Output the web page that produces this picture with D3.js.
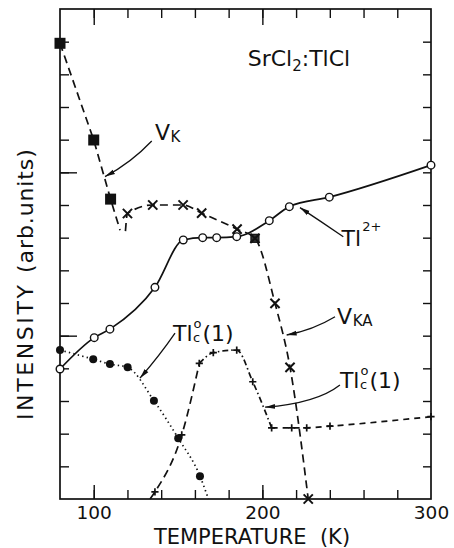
<!DOCTYPE html>
<html>
<head>
<meta charset="utf-8">
<script src="https://cdn.jsdelivr.net/npm/d3@7"></script>
<style>
  body { margin: 0; background: #fff; }
  text { font-family: "DejaVu Sans", sans-serif; fill: #111; }
</style>
</head>
<body>
<svg id="chart"></svg>
<script>
// V_K (filled squares)
const vkT = [80, 100, 110];
const vkI = [13.95, 10.99, 9.18];
const vkLineT = [80, 100, 110, 115.6];
const vkLineI = [13.95, 10.99, 9.18, 8.23];

// V_KA (crosses)
const vkaT = [120, 135, 153, 164, 185, 207.5, 216.4, 227.2];
const vkaI = [8.74, 9.0, 9.0, 8.75, 8.26, 5.99, 4.03, 0];
const boxedT = [195.6];
const boxedI = [7.98];
const vkaLineT = [118.8, 120, 135, 153, 164, 185, 195.6, 207.5, 216.4, 227.2];
const vkaLineI = [8.2, 8.74, 9.0, 9.0, 8.75, 8.26, 7.98, 5.99, 4.03, 0];

// Tl2+ (open circles)
const tl2T = [80, 100.3, 109.6, 136.3, 153.1, 164.6, 172.9, 184.8, 204.1, 216, 239.7, 300];
const tl2I = [3.98, 4.94, 5.2, 6.48, 7.93, 8.0, 8.0, 8.03, 8.52, 8.95, 9.24, 10.22];

// Tl_c^0(1) (filled circles, dotted)
const tlcDotT = [80, 99.7, 109.6, 120.1, 135.7, 150.1, 163];
const tlcDotI = [4.56, 4.28, 4.13, 4.03, 3.01, 1.86, 0.70];
const tlcDotLineT = [80, 99.7, 109.6, 120.1, 135.7, 150.1, 163, 168];
const tlcDotLineI = [4.56, 4.28, 4.13, 4.03, 3.01, 1.86, 0.70, 0];

// Tl_c^0(1) (plus signs)
const tlcPlusT = [136.3, 152.2, 162.6, 170.9, 184.8, 194.3, 205.5, 217.4, 226.3, 240.1, 300];
const tlcPlusI = [0.22, 1.96, 4.15, 4.48, 4.56, 3.59, 2.18, 2.18, 2.18, 2.23, 2.52];
const tlcPlusLineT = [133.4, 136.3, 152.2, 162.6, 170.9, 184.8, 194.3, 205.5, 217.4, 226.3, 240.1, 300];
const tlcPlusLineI = [0, 0.22, 1.96, 4.15, 4.48, 4.56, 3.59, 2.18, 2.18, 2.18, 2.23, 2.52];

// axis ticks
const xMinorTicks = [100, 120, 140, 160, 180, 200, 220, 240, 260, 280];
const xMajorTicks = [100, 200];
const xTickLabels = [100, 200, 300];
const yMinorTicks = [1, 2, 3, 4, 5, 6, 7, 8, 9, 10, 11, 12, 13, 14];
const yMajorTicks = [5, 10];

const width = 454;
const height = 548;
const marginLeft = 60, marginRight = 23, marginTop = 9, marginBottom = 49;

const svg = d3.select("#chart")
    .attr("width", width)
    .attr("height", height)
    .attr("viewBox", [0, 0, width, height]);

const x = d3.scaleLinear().domain([80, 300]).range([marginLeft, width - marginRight]);
const y = d3.scaleLinear().domain([0, 15]).range([height - marginBottom, marginTop]);

const zip = (a, b) => a.map((v, i) => [v, b[i]]);

// arrow head
svg.append("defs").append("marker")
    .attr("id", "arrow")
    .attr("viewBox", "0 -3 10 6")
    .attr("refX", 10).attr("refY", 0)
    .attr("markerWidth", 10).attr("markerHeight", 6)
    .attr("markerUnits", "userSpaceOnUse")
    .attr("orient", "auto")
  .append("path")
    .attr("d", "M0,-2.4L10,0L0,2.4Z")
    .attr("fill", "#111");

// axes (ticks point inward)
const axisG = svg.append("g");
function noDomain(g) { g.select(".domain").remove(); g.selectAll("line").attr("stroke", "#111").attr("stroke-width", 1.4); }

axisG.append("g").attr("transform", `translate(0,${y(0)})`)
    .call(d3.axisBottom(x).tickValues(xMinorTicks).tickSize(-9).tickFormat("")).call(noDomain);
axisG.append("g").attr("transform", `translate(0,${y(0)})`)
    .call(d3.axisBottom(x).tickValues(xMajorTicks).tickSize(-14).tickFormat("")).call(noDomain);
axisG.append("g").attr("transform", `translate(0,${y(15)})`)
    .call(d3.axisTop(x).tickValues(xMinorTicks).tickSize(-9).tickFormat("")).call(noDomain);
axisG.append("g").attr("transform", `translate(0,${y(15)})`)
    .call(d3.axisTop(x).tickValues(xMajorTicks).tickSize(-16).tickFormat("")).call(noDomain);
axisG.append("g").attr("transform", `translate(${x(80)},0)`)
    .call(d3.axisLeft(y).tickValues(yMinorTicks).tickSize(-9).tickFormat("")).call(noDomain);
axisG.append("g").attr("transform", `translate(${x(80)},0)`)
    .call(d3.axisLeft(y).tickValues(yMajorTicks).tickSize(-17).tickFormat("")).call(noDomain);
axisG.append("g").attr("transform", `translate(${x(300)},0)`)
    .call(d3.axisRight(y).tickValues(yMinorTicks).tickSize(-8).tickFormat("")).call(noDomain);

// tick labels
svg.append("g").attr("transform", `translate(0,${y(0)})`)
    .call(d3.axisBottom(x).tickValues(xTickLabels).tickSize(0).tickPadding(7).tickFormat(d3.format("d")))
    .call(g => g.select(".domain").remove())
    .call(g => g.selectAll("text").attr("font-size", 18.5).attr("font-family", "DejaVu Sans, sans-serif").attr("fill", "#111"));

// frame
svg.append("rect")
    .attr("x", x(80)).attr("y", y(15))
    .attr("width", x(300) - x(80)).attr("height", y(0) - y(15))
    .attr("fill", "none").attr("stroke", "#111").attr("stroke-width", 1.7);

// axis titles
svg.append("text")
    .attr("x", 252).attr("y", 543.5)
    .attr("text-anchor", "middle")
    .attr("font-size", 21)
    .style("white-space", "pre")
    .text("TEMPERATURE  (K)");

const yTitle = svg.append("text")
    .attr("transform", "translate(33,420) rotate(-90)")
    .attr("font-size", 22);
yTitle.append("tspan").attr("letter-spacing", 2.6).text("INTENSITY ");
yTitle.append("tspan").attr("letter-spacing", 0.9).text("(arb.units)");

// lines
const lineCurve = d3.line().x(d => x(d[0])).y(d => y(d[1])).curve(d3.curveMonotoneX);
const lineStraight = d3.line().x(d => x(d[0])).y(d => y(d[1]));
const lines = svg.append("g").attr("fill", "none").attr("stroke", "#111").attr("stroke-width", 1.7);

lines.append("path").attr("d", lineStraight(zip(vkLineT, vkLineI))).attr("stroke-dasharray", "8,5");
lines.append("path").attr("d", lineCurve(zip(vkaLineT, vkaLineI))).attr("stroke-dasharray", "8,5");
lines.append("path").attr("d", lineCurve(zip(tl2T, tl2I)));
lines.append("path").attr("d", lineCurve(zip(tlcDotLineT, tlcDotLineI)))
    .attr("stroke-dasharray", "1.4,3.2").attr("stroke-width", 1.7);

const plusPts = zip(tlcPlusLineT, tlcPlusLineI);
lines.append("path").attr("d", lineCurve(plusPts.slice(0, 4))).attr("stroke-dasharray", "8,5");
lines.append("path").attr("d", lineCurve(plusPts.slice(3, 8))).attr("stroke-dasharray", "6,3,1.5,3");
lines.append("path").attr("d", lineCurve(plusPts.slice(7))).attr("stroke-dasharray", "6,5");

// markers
const marks = svg.append("g");

marks.selectAll(".sq").data(zip(vkT, vkI)).join("rect")
    .attr("x", d => x(d[0]) - 5.5).attr("y", d => y(d[1]) - 5.5)
    .attr("width", 11).attr("height", 11).attr("fill", "#111");

marks.selectAll(".box").data(zip(boxedT, boxedI)).join("rect")
    .attr("x", d => x(d[0]) - 4).attr("y", d => y(d[1]) - 4)
    .attr("width", 8).attr("height", 8).attr("fill", "#333").attr("stroke", "#111").attr("stroke-width", 1.2);

marks.selectAll(".cross").data(zip(vkaT, vkaI).concat(zip(boxedT, boxedI))).join("path")
    .attr("d", d => {
        const cx = x(d[0]), cy = y(d[1]), s = 4.6;
        return `M${cx - s},${cy - s}L${cx + s},${cy + s}M${cx - s},${cy + s}L${cx + s},${cy - s}`;
    })
    .attr("stroke", "#111").attr("stroke-width", 2);

marks.selectAll(".open").data(zip(tl2T, tl2I)).join("circle")
    .attr("cx", d => x(d[0])).attr("cy", d => y(d[1])).attr("r", 3.8)
    .attr("fill", "#fff").attr("stroke", "#111").attr("stroke-width", 1.4);

marks.selectAll(".dot").data(zip(tlcDotT, tlcDotI)).join("circle")
    .attr("cx", d => x(d[0])).attr("cy", d => y(d[1])).attr("r", 4)
    .attr("fill", "#111");

marks.selectAll(".plus").data(zip(tlcPlusT, tlcPlusI)).join("path")
    .attr("d", d => {
        const cx = x(d[0]), cy = y(d[1]), s = 3.6;
        return `M${cx - s},${cy}L${cx + s},${cy}M${cx},${cy - s}L${cx},${cy + s}`;
    })
    .attr("stroke", "#111").attr("stroke-width", 1.7);

// annotations
const ann = svg.append("g");

function label(T, I, main, sup, sub, tail) {
    const x0 = x(T), y0 = y(I);
    const t = ann.append("text").attr("x", x0).attr("y", y0).attr("font-size", 22).text(main);
    const w = t.node().getComputedTextLength();
    let extra = 0;
    if (sup) {
        const s = ann.append("text").attr("x", x0 + w + 1).attr("y", y0 - sup.dy).attr("font-size", 13).text(sup.t);
        extra = Math.max(extra, s.node().getComputedTextLength());
    }
    if (sub) {
        const s = ann.append("text").attr("x", x0 + w + 0.5).attr("y", y0 + sub.dy).attr("font-size", sub.size || 13).text(sub.t);
        extra = Math.max(extra, s.node().getComputedTextLength());
    }
    if (tail) ann.append("text").attr("x", x0 + w + extra + 2).attr("y", y0).attr("font-size", 22).text(tail);
}

function arrow(from, ctrl, to) {
    ann.append("path")
        .attr("d", `M${x(from[0])},${y(from[1])}Q${x(ctrl[0])},${y(ctrl[1])} ${x(to[0])},${y(to[1])}`)
        .attr("fill", "none").attr("stroke", "#111").attr("stroke-width", 1.3)
        .attr("marker-end", "url(#arrow)");
}

// SrCl2:TlCl
const title = ann.append("text").attr("x", x(191.3)).attr("y", y(13.24)).attr("font-size", 22);
title.append("tspan").text("SrCl");
title.append("tspan").attr("font-size", 15).attr("dy", 5).text("2");
title.append("tspan").attr("dy", -5).text(":TlCl");

label(136.3, 10.99, "V", null, { t: "K", dy: 2, size: 15 });
arrow([134.4, 10.96], [122.1, 10.29], [106.7, 9.87]);

label(247.0, 7.76, "Tl", { t: "2+", dy: 15 });
arrow([248, 8.03], [235.2, 8.48], [222.3, 8.92]);

label(244.3, 5.36, "V", null, { t: "KA", dy: 2, size: 15 });
arrow([243.1, 5.58], [230, 5.17], [214.4, 5.02]);

label(246, 3.40, "Tl", { t: "o", dy: 13 }, { t: "c", dy: 1 }, "(1)");
arrow([246, 3.49], [232.2, 2.93], [201.6, 2.81]);

label(147, 4.84, "Tl", { t: "o", dy: 13 }, { t: "c", dy: 1 }, "(1)");
arrow([148.2, 5.08], [139.3, 4.41], [127.4, 3.70]);
</script>
</body>
</html>
